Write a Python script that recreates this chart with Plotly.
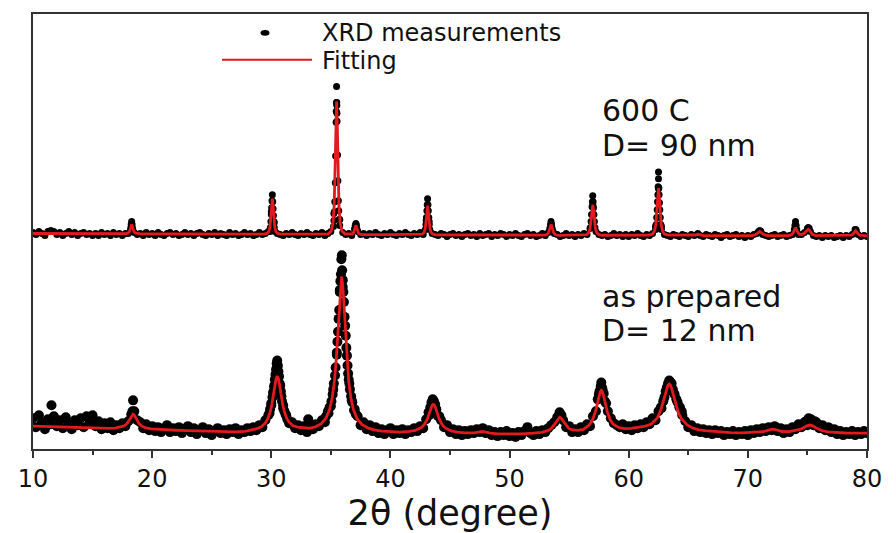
import plotly.graph_objects as go

# ---------------------------------------------------------------
# XRD patterns: as-prepared powder (bottom) and 600 C anneal (top)
# Intensities in arbitrary units; the 600 C pattern is stacked above.
# ---------------------------------------------------------------

# measured points on the 0.25 deg grid, one row per degree (x.00, x.25, x.50, x.75)
meas_600_rows = [
    [218, 216, 219, 217],  # 10
    [215, 219, 220, 219],  # 11
    [216, 218, 215, 217],  # 12
    [219, 216, 218, 215],  # 13
    [217, 218, 216, 217],  # 14
    [215, 217, 215, 218],  # 15
    [216, 217, 215, 218],  # 16
    [216, 217, 215, 217],  # 17
    [217, 224, 218, 216],  # 18
    [217, 215, 218, 216],  # 19
    [217, 215, 218, 216],  # 20
    [215, 217, 218, 216],  # 21
    [217, 215, 216, 218],  # 22
    [216, 217, 215, 217],  # 23
    [218, 216, 215, 217],  # 24
    [216, 218, 215, 217],  # 25
    [216, 215, 218, 216],  # 26
    [217, 215, 216, 218],  # 27
    [216, 217, 215, 216],  # 28
    [218, 216, 217, 219],  # 29
    [239, 228, 217, 216],  # 30
    [215, 217, 216, 218],  # 31
    [216, 215, 217, 216],  # 32
    [218, 216, 215, 217],  # 33
    [216, 218, 215, 217],  # 34
    [219, 237, 346, 231],  # 35
    [218, 216, 217, 215],  # 36
    [222, 219, 216, 217],  # 37
    [215, 217, 216, 218],  # 38
    [216, 215, 217, 216],  # 39
    [218, 216, 215, 217],  # 40
    [216, 218, 216, 215],  # 41
    [217, 216, 218, 216],  # 42
    [230, 229, 217, 216],  # 43
    [215, 217, 216, 214],  # 44
    [216, 217, 215, 216],  # 45
    [214, 216, 217, 215],  # 46
    [216, 214, 217, 215],  # 47
    [216, 217, 214, 216],  # 48
    [215, 217, 216, 214],  # 49
    [216, 215, 217, 215],  # 50
    [214, 216, 217, 215],  # 51
    [216, 214, 215, 217],  # 52
    [215, 218, 226, 217],  # 53
    [216, 214, 215, 217],  # 54
    [215, 216, 214, 216],  # 55
    [215, 217, 216, 222],  # 56
    [245, 219, 216, 215],  # 57
    [216, 214, 215, 217],  # 58
    [215, 216, 214, 216],  # 59
    [214, 216, 215, 217],  # 60
    [215, 214, 216, 215],  # 61
    [217, 224, 262, 224],  # 62
    [216, 215, 214, 216],  # 63
    [215, 214, 216, 215],  # 64
    [214, 216, 215, 216],  # 65
    [215, 214, 216, 215],  # 66
    [214, 216, 215, 213],  # 67
    [215, 216, 214, 215],  # 68
    [216, 214, 215, 213],  # 69
    [215, 214, 216, 217],  # 70
    [219, 216, 215, 214],  # 71
    [215, 216, 214, 215],  # 72
    [216, 214, 215, 216],  # 73
    [223, 216, 216, 218],  # 74
    [221, 219, 215, 214],  # 75
    [215, 213, 215, 214],  # 76
    [215, 213, 214, 215],  # 77
    [213, 215, 214, 216],  # 78
    [219, 216, 214, 215],  # 79
]
meas_600_end = 214  # 80.00

# extra (finer-step) measured points across the sharp 600 C reflections
meas_600_peaks = [
    (18.28, 229), (18.24, 226), (18.32, 226), (18.20, 222), (18.36, 222), (18.15, 219), (18.41, 219),
    (30.09, 256), (30.06, 250), (30.12, 249), (30.03, 243), (30.15, 242), (30.00, 236), (30.18, 235),
    (29.97, 229), (30.21, 229), (29.93, 223), (30.25, 223), (29.88, 219), (30.30, 219),
    (35.48, 365), (35.47, 349), (35.49, 349), (35.45, 340), (35.51, 338), (35.44, 329), (35.52, 330),
    (35.40, 295), (35.56, 296), (35.37, 268), (35.59, 270), (35.33, 249), (35.63, 250),
    (35.30, 239), (35.66, 240), (35.26, 230), (35.70, 231), (35.22, 224), (35.74, 225),
    (37.10, 227), (37.05, 225), (37.15, 225), (37.00, 221), (37.20, 221),
    (43.12, 252), (43.09, 246), (43.15, 246), (43.06, 240), (43.18, 240), (43.02, 233), (43.22, 233),
    (42.98, 226), (43.26, 226), (42.94, 221), (43.30, 221),
    (53.48, 229), (53.44, 226), (53.52, 226), (53.38, 222), (53.58, 222), (53.33, 219), (53.63, 219),
    (56.98, 255), (56.95, 249), (57.01, 249), (56.92, 244), (57.04, 243), (56.88, 236), (57.08, 236),
    (56.84, 229), (57.12, 229), (56.80, 223), (57.16, 223),
    (62.50, 279), (62.50, 272), (62.47, 264), (62.53, 263), (62.45, 256), (62.55, 256),
    (62.42, 249), (62.58, 248), (62.39, 241), (62.61, 241), (62.35, 233), (62.65, 233),
    (62.31, 226), (62.69, 226), (62.26, 221), (62.74, 221),
    (65.80, 217), (71.00, 220), (70.90, 219), (71.10, 219),
    (74.00, 229), (73.95, 225), (74.05, 225), (73.90, 221), (74.10, 221),
    (75.07, 223), (75.00, 222), (75.15, 222), (79.05, 221), (79.00, 221), (79.10, 220),
]

meas_ap_rows = [
    [31, 22, 34, 27],      # 10
    [20, 30, 25, 33],      # 11
    [23, 29, 21, 32],      # 12
    [26, 20, 29, 24],      # 13
    [31, 22, 33, 27],      # 14
    [34, 23, 28, 20],      # 15
    [26, 21, 27, 19],      # 16
    [24, 21, 26, 23],      # 17
    [28, 35, 38, 29],      # 18
    [27, 21, 25, 19],      # 19
    [23, 18, 22, 17],      # 20
    [21, 24, 17, 21],      # 21
    [18, 22, 16, 20],      # 22
    [23, 17, 21, 15],      # 23
    [19, 22, 16, 20],      # 24
    [14, 18, 21, 16],      # 25
    [19, 15, 20, 17],      # 26
    [21, 15, 19, 17],      # 27
    [21, 18, 22, 19],      # 28
    [24, 22, 29, 34],      # 29
    [46, 62, 82, 64],      # 30
    [44, 34, 26, 27],      # 31
    [21, 24, 19, 23],      # 32
    [17, 22, 20, 25],      # 33
    [23, 29, 27, 38],      # 34
    [43, 66, 97, 160],     # 35
    [170, 114, 70, 49],    # 36
    [40, 33, 24, 27],      # 37
    [20, 24, 18, 22],      # 38
    [16, 20, 15, 19],      # 39
    [21, 15, 19, 16],      # 40
    [20, 15, 19, 17],      # 41
    [21, 18, 23, 21],      # 42
    [30, 34, 46, 45],      # 43
    [33, 29, 22, 24],      # 44
    [17, 20, 15, 19],      # 45
    [14, 18, 15, 19],      # 46
    [16, 20, 17, 21],      # 47
    [16, 19, 14, 17],      # 48
    [13, 17, 14, 18],      # 49
    [13, 16, 12, 17],      # 50
    [14, 18, 22, 16],      # 51
    [14, 18, 15, 19],      # 52
    [17, 21, 24, 27],      # 53
    [32, 35, 29, 22],      # 54
    [23, 17, 20, 17],      # 55
    [22, 19, 25, 23],      # 56
    [33, 38, 55, 62],      # 57
    [48, 38, 31, 26],      # 58
    [24, 22, 25, 20],      # 59
    [23, 19, 24, 21],      # 60
    [25, 22, 27, 25],      # 61
    [31, 29, 38, 41],      # 62
    [52, 60, 67, 57],      # 63
    [50, 42, 34, 28],      # 64
    [22, 24, 18, 21],      # 65
    [17, 20, 16, 19],      # 66
    [15, 19, 16, 18],      # 67
    [14, 17, 15, 18],      # 68
    [14, 17, 15, 18],      # 69
    [14, 19, 16, 20],      # 70
    [17, 21, 18, 22],      # 71
    [19, 23, 18, 21],      # 72
    [16, 20, 17, 22],      # 73
    [20, 25, 22, 27],      # 74
    [24, 29, 24, 27],      # 75
    [21, 24, 19, 22],      # 76
    [17, 20, 15, 18],      # 77
    [14, 17, 15, 18],      # 78
    [14, 17, 15, 18],      # 79
]
meas_ap_end = 16  # 80.00

meas_ap_peaks = [
    (11.55, 44), (33.10, 30),
    (18.40, 49), (18.35, 38), (18.45, 37),
    (29.85, 36), (29.90, 40), (30.00, 44), (30.10, 52), (30.15, 57), (30.25, 64), (30.30, 70),
    (30.35, 75), (30.40, 80), (30.45, 86), (30.50, 89), (30.55, 84), (30.60, 78), (30.65, 73),
    (30.70, 66), (30.80, 58), (30.85, 53), (30.90, 48), (31.00, 41), (31.10, 38), (31.20, 35), (31.35, 30),
    (34.60, 33), (34.80, 36), (34.90, 42), (35.05, 48), (35.15, 55), (35.20, 60), (35.35, 74),
    (35.40, 82), (35.50, 95), (35.55, 108), (35.60, 118), (35.65, 131), (35.70, 140), (35.75, 158),
    (35.80, 169), (35.85, 176), (35.88, 191), (35.92, 195), (35.95, 180), (36.00, 163), (36.05, 158),
    (36.10, 148), (36.15, 133), (36.20, 124), (36.30, 102), (36.35, 94), (36.40, 84), (36.45, 76),
    (36.55, 66), (36.60, 60), (36.70, 53), (36.80, 47), (36.95, 39), (37.10, 35),
    (43.20, 37), (43.35, 42), (43.45, 47), (43.55, 50), (43.65, 48), (43.85, 40), (44.10, 33),
    (54.10, 33), (54.20, 37), (54.35, 34),
    (57.40, 50), (57.55, 58), (57.65, 63), (57.70, 67), (57.80, 60), (57.90, 56), (58.10, 46),
    (62.70, 42), (62.90, 48), (63.10, 58), (63.20, 62), (63.30, 66), (63.40, 69), (63.45, 68),
    (63.60, 66), (63.70, 60), (63.85, 55), (64.10, 47), (64.30, 42), (64.45, 38),
    (74.90, 28), (75.10, 31), (75.30, 30), (75.60, 28),
]

# fitted profiles (2theta, intensity)
fit_600 = [
    (10, 217), (12, 216.9), (14, 216.8), (16, 216.7), (17.58, 216.7), (17.83, 216.9), (17.98, 217.5),
    (18.08, 218.7), (18.16, 221.4), (18.22, 224.4), (18.28, 226.1), (18.34, 224.4), (18.40, 221.4),
    (18.48, 218.7), (18.58, 217.5), (18.73, 216.9), (18.98, 216.6), (22, 216.5), (26, 216.4),
    (29.39, 216.4), (29.64, 217.1), (29.79, 218.8), (29.89, 223.5), (29.97, 233.5), (30.03, 245.5),
    (30.09, 252), (30.15, 245.5), (30.21, 233.5), (30.29, 223.5), (30.39, 218.8), (30.54, 217.1),
    (30.79, 216.4), (33, 216.1), (34.78, 216.5), (35.03, 219.5), (35.18, 227.5), (35.28, 245),
    (35.36, 282.8), (35.42, 325.7), (35.48, 349.8), (35.54, 325.7), (35.60, 282.8), (35.68, 245),
    (35.78, 227.5), (35.93, 219.5), (36.18, 216.5), (36.6, 216), (36.8, 216.5), (36.9, 217.8),
    (36.98, 220.4), (37.04, 223.5), (37.1, 225.2), (37.16, 223.5), (37.22, 220.4), (37.3, 217.8),
    (37.4, 216.5), (37.6, 216), (40, 215.8), (42.42, 215.7), (42.67, 216.3), (42.82, 217.9),
    (42.92, 221.9), (43.0, 230.1), (43.06, 239.6), (43.12, 244.9), (43.18, 239.6), (43.24, 230.1),
    (43.32, 221.9), (43.42, 217.9), (43.57, 216.3), (43.82, 215.7), (47, 215.4), (50, 215.3),
    (52.68, 215.1), (52.98, 215.4), (53.13, 216), (53.25, 217.4), (53.34, 220.5), (53.41, 224),
    (53.48, 226), (53.55, 224), (53.62, 220.5), (53.71, 217.4), (53.83, 216), (53.98, 215.4),
    (54.28, 215.1), (56.18, 215.2), (56.48, 215.9), (56.63, 217.6), (56.75, 221.7), (56.84, 230.4),
    (56.91, 240.3), (56.98, 245.9), (57.05, 240.3), (57.12, 230.4), (57.21, 221.7), (57.33, 217.6),
    (57.48, 215.9), (57.78, 215.2), (60, 215), (61.7, 215.3), (62.0, 216.5), (62.15, 219.1),
    (62.27, 225.4), (62.36, 238.8), (62.43, 254.2), (62.5, 262.8), (62.57, 254.2), (62.64, 238.8),
    (62.73, 225.4), (62.85, 219.1), (63.0, 216.5), (63.3, 215.3), (65.3, 214.9), (65.6, 215.5),
    (65.8, 216.2), (66.0, 215.5), (66.3, 214.9), (70.3, 214.8), (70.6, 215.5), (70.8, 217.2),
    (71.0, 219), (71.2, 217.2), (71.4, 215.5), (71.7, 214.8), (73.4, 214.8), (73.65, 215.6),
    (73.8, 217.5), (73.9, 220.5), (74.0, 223), (74.1, 220.5), (74.2, 217.8), (74.3, 216.2),
    (74.5, 216), (74.75, 217.2), (74.9, 219.2), (75.0, 220.7), (75.07, 221.2), (75.15, 220.5),
    (75.25, 218.5), (75.4, 216.2), (75.7, 214.9), (78.4, 214.6), (78.7, 215.3), (78.85, 216.6),
    (78.95, 218.4), (79.05, 219.8), (79.15, 218.4), (79.25, 216.6), (79.4, 215.3), (79.7, 214.6),
    (80, 214.5),
]

fit_ap = [
    (10, 23), (11, 22.6), (12, 22.2), (13, 21.8), (14, 21.4), (15, 21), (16, 20.6), (16.4, 20.8),
    (16.9, 21), (17.4, 22), (17.65, 23.2), (17.9, 25.7), (18.05, 28.4), (18.2, 31.9), (18.3, 34.1),
    (18.4, 35), (18.5, 34.1), (18.6, 31.9), (18.75, 28.3), (18.9, 25.6), (19.15, 23), (19.4, 21.6),
    (19.9, 20.3), (20.4, 19.8), (21, 19.3), (22, 18.9), (23, 18.5), (24, 18.1), (25, 17.7),
    (26, 17.4), (27, 17.3), (27.8, 17.8), (28.3, 18.9), (28.8, 20.4), (29.2, 22.6), (29.5, 26.2),
    (29.7, 30.3), (29.9, 37), (30.05, 45), (30.2, 55.9), (30.3, 64), (30.4, 70.7), (30.5, 73.5),
    (30.6, 70.8), (30.7, 64.2), (30.8, 56.1), (30.95, 45.4), (31.1, 37.5), (31.3, 30.8), (31.5, 27),
    (31.8, 23.7), (32.2, 22), (32.7, 21.2), (33.2, 20.9), (33.7, 22.3), (34.2, 25.5), (34.6, 31.3),
    (34.9, 40), (35.1, 50.5), (35.3, 68.4), (35.45, 90), (35.6, 121), (35.7, 145), (35.8, 165),
    (35.9, 173.5), (36.0, 165), (36.1, 145), (36.2, 121), (36.35, 90), (36.5, 68), (36.7, 50),
    (36.9, 39.5), (37.2, 30.5), (37.6, 24.7), (38.1, 21.2), (38.6, 19.2), (39.3, 17.9), (40.0, 17.3),
    (40.8, 17), (41.6, 17.7), (42.1, 18.8), (42.6, 21.6), (42.85, 24.7), (43.1, 30.3), (43.25, 35.3),
    (43.4, 41), (43.5, 43.9), (43.6, 45), (43.7, 43.9), (43.8, 41), (43.95, 35.2), (44.1, 30.1),
    (44.35, 24.4), (44.6, 21.2), (45.1, 18.2), (45.6, 16.9), (46.2, 16.3), (47.0, 16.2), (47.4, 17),
    (47.7, 17.6), (48.0, 17), (48.4, 15.9), (49.0, 15.3), (50.0, 15.1), (51.0, 15.2), (52.0, 15.9),
    (52.7, 16.7), (53.2, 18.5), (53.45, 20.3), (53.7, 23.6), (53.85, 26.4), (54.0, 29.6),
    (54.1, 31.3), (54.2, 32), (54.3, 31.4), (54.4, 29.8), (54.55, 26.7), (54.7, 24), (54.95, 21),
    (55.2, 19.5), (55.7, 18.7), (56.2, 19.8), (56.7, 24.3), (56.95, 28.9), (57.2, 37.3),
    (57.35, 44.7), (57.5, 53), (57.6, 57.3), (57.7, 59), (57.8, 57.4), (57.9, 53.1), (58.05, 44.9),
    (58.2, 37.6), (58.45, 29.4), (58.7, 25), (59.2, 21.5), (59.7, 20.5), (60.2, 20.8), (60.6, 21.3),
    (61.0, 22), (61.4, 23), (61.9, 25.2), (62.4, 31.3), (62.65, 37.7), (62.9, 47.3), (63.05, 54.4),
    (63.2, 61.2), (63.3, 64.3), (63.4, 65.4), (63.5, 64.3), (63.6, 61.1), (63.75, 54.3), (63.9, 47.2),
    (64.15, 37.3), (64.4, 30.9), (64.9, 24.2), (65.4, 21), (65.9, 19.3), (66.4, 18.4), (67.4, 17.1),
    (68.5, 16.4), (69.5, 16.3), (70.5, 16.5), (71.3, 17.4), (71.8, 19.2), (72.1, 20), (72.4, 19.3),
    (72.9, 17.6), (73.5, 17.5), (74.2, 18.9), (74.45, 20), (74.7, 21.6), (74.95, 23.3), (75.2, 24.1),
    (75.45, 23.3), (75.7, 21.5), (75.95, 19.8), (76.2, 18.6), (76.7, 17.2), (77.2, 16.6),
    (78.2, 16.1), (79.0, 16), (80.0, 16),
]

x_ticks = [10, 20, 30, 40, 50, 60, 70, 80]
labels_600 = ["600 C", "D= 90 nm"]
labels_ap = ["as prepared", "D= 12 nm"]
legend_labels = ["XRD measurements", "Fitting"]


def grid_series(rows, last):
    ys = [v for row in rows for v in row] + [last]
    assert len(ys) == 281, len(ys)
    xs = [round(10 + 0.25 * i, 2) for i in range(len(ys))]
    return xs, ys


def merge(grid, extra):
    pts = sorted(list(zip(*grid)) + list(extra))
    return [p[0] for p in pts], [p[1] for p in pts]


x600, y600 = merge(grid_series(meas_600_rows, meas_600_end), meas_600_peaks)
xap, yap = merge(grid_series(meas_ap_rows, meas_ap_end), meas_ap_peaks)

RED = "#e2191d"
FONT = "DejaVu Sans"
W, H = 896, 533
ML, MR, MT, MB = 33, 29, 14, 81
PW, PH = W - ML - MR, H - MT - MB


def px(x):  # page pixel -> paper fraction (horizontal)
    return (x - ML) / PW


def py(y):  # page pixel -> paper fraction (vertical)
    return (H - MB - y) / PH


fig = go.Figure()
for xs, ys, size in [(xap, yap, 10), (x600, y600, 7)]:
    fig.add_trace(go.Scatter(x=xs, y=ys, mode="markers",
                             marker=dict(color="black", size=size, line=dict(width=0)),
                             showlegend=False, hoverinfo="skip"))
for fit in (fit_ap, fit_600):
    fig.add_trace(go.Scatter(x=[p[0] for p in fit], y=[p[1] for p in fit], mode="lines",
                             line=dict(color=RED, width=2.8), showlegend=False, hoverinfo="skip"))

# hand-placed legend
shapes = [
    dict(type="circle", xref="paper", yref="paper", x0=px(260.5), x1=px(269.5), y0=py(36), y1=py(30),
         fillcolor="black", line=dict(width=0)),
    dict(type="line", xref="paper", yref="paper", x0=px(222), x1=px(312), y0=py(60), y1=py(60),
         line=dict(color=RED, width=2)),
]
annotations = [
    dict(text=legend_labels[0], x=px(320), y=py(33), font=dict(size=24)),
    dict(text=legend_labels[1], x=px(320), y=py(61), font=dict(size=24)),
    dict(text=labels_600[0], x=px(600), y=py(111), font=dict(size=30)),
    dict(text=labels_600[1], x=px(600), y=py(146), font=dict(size=30)),
    dict(text=labels_ap[0], x=px(600), y=py(298), font=dict(size=30)),
    dict(text=labels_ap[1], x=px(600), y=py(333), font=dict(size=30)),
]
for a in annotations:
    a.update(xref="paper", yref="paper", xanchor="left", yanchor="middle", showarrow=False)
    a["font"].update(family=FONT, color="#111")

fig.update_layout(
    width=W, height=H,
    margin=dict(l=ML, r=MR, t=MT, b=MB),
    paper_bgcolor="white", plot_bgcolor="white",
    font=dict(family=FONT, color="#111"),
    shapes=shapes, annotations=annotations,
    xaxis=dict(range=[10, 80], tickvals=x_ticks, ticks="outside", ticklen=7, tickwidth=2,
               tickcolor="#333", showline=True, linewidth=2, linecolor="#333", mirror=True,
               showgrid=False, zeroline=False, tickfont=dict(size=24, family=FONT),
               minor=dict(dtick=5, tick0=10, ticks="outside", ticklen=4, tickwidth=2, tickcolor="#333"),
               title=dict(text="2θ (degree)", font=dict(size=35, family=FONT), standoff=4)),
    yaxis=dict(range=[0, 438], showticklabels=False, ticks="", showline=True, linewidth=2,
               linecolor="#333", mirror=True, showgrid=False, zeroline=False),
)

fig.write_html("out.html")
